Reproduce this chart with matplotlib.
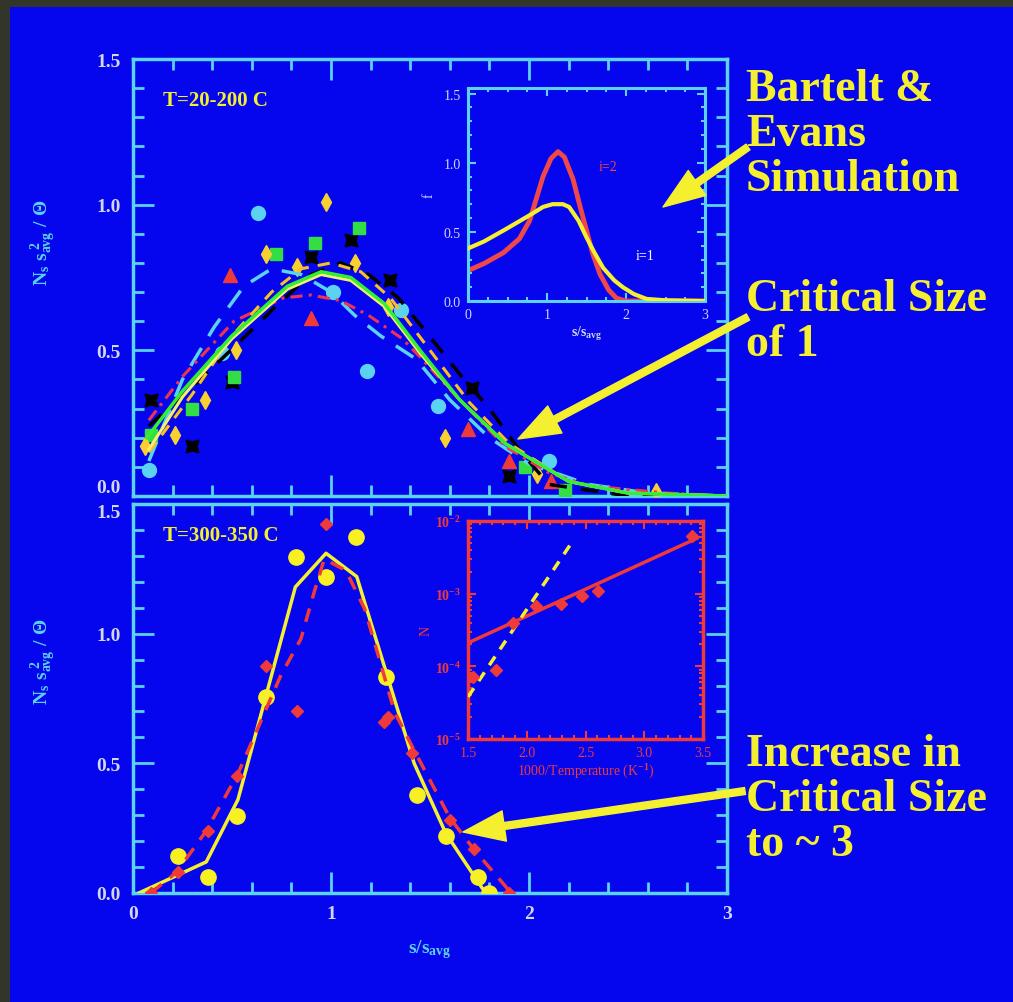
import matplotlib
matplotlib.use("Agg")
import matplotlib.pyplot as plt
from matplotlib.ticker import MultipleLocator, FixedLocator, NullFormatter
from matplotlib.patches import Rectangle

plt.rcParams['font.family'] = ['Liberation Serif', 'DejaVu Serif']
plt.rcParams['mathtext.fontset'] = 'custom'
plt.rcParams['mathtext.rm'] = 'Liberation Serif:bold'
plt.rcParams['mathtext.it'] = 'Liberation Serif:bold'
plt.rcParams['mathtext.bf'] = 'Liberation Serif:bold'

# ---------------- data: top panel (T = 20-200 C) ----------------
cyan_line_x = [0.08, 0.25, 0.41, 0.56, 0.70, 0.85, 1.00, 1.12, 1.25, 1.43, 1.60, 1.80, 2.00, 2.30, 2.60, 3.00]
cyan_line_y = [0.12, 0.40, 0.58, 0.72, 0.78, 0.76, 0.70, 0.62, 0.55, 0.47, 0.33, 0.20, 0.11, 0.04, 0.01, 0.00]
green_line_x = [0.07, 0.25, 0.50, 0.78, 0.95, 1.10, 1.27, 1.45, 1.65, 1.88, 2.20, 2.50, 3.00]
green_line_y = [0.20, 0.36, 0.55, 0.72, 0.77, 0.75, 0.66, 0.50, 0.33, 0.18, 0.05, 0.01, 0.00]
lyellow_line_x = [0.08, 0.25, 0.50, 0.78, 0.95, 1.10, 1.27, 1.45, 1.65, 1.88, 2.20, 2.50, 3.00]
lyellow_line_y = [0.16, 0.34, 0.54, 0.71, 0.76, 0.74, 0.65, 0.49, 0.33, 0.18, 0.05, 0.01, 0.00]
yellow_dash_x = [0.08, 0.30, 0.50, 0.70, 0.85, 1.00, 1.15, 1.30, 1.50, 1.70, 1.90, 2.20, 2.50, 3.00]
yellow_dash_y = [0.15, 0.35, 0.55, 0.70, 0.78, 0.80, 0.77, 0.68, 0.50, 0.32, 0.18, 0.05, 0.01, 0.00]
black_dash_x = [0.08, 0.34, 0.60, 0.75, 0.90, 1.05, 1.19, 1.34, 1.46, 1.66, 1.80, 1.96, 2.10, 2.50, 3.00]
black_dash_y = [0.24, 0.40, 0.57, 0.67, 0.76, 0.80, 0.76, 0.68, 0.58, 0.41, 0.30, 0.15, 0.04, 0.00, 0.00]
red_dd_x = [0.08, 0.25, 0.51, 0.76, 0.90, 1.05, 1.19, 1.36, 1.46, 1.65, 1.88, 2.10, 2.30, 2.70, 3.00]
red_dd_y = [0.26, 0.41, 0.60, 0.68, 0.69, 0.67, 0.62, 0.54, 0.47, 0.33, 0.17, 0.08, 0.035, 0.01, 0.00]

cyan_pts_x = [0.08, 0.45, 0.63, 1.01, 1.18, 1.355, 1.54, 2.10]
cyan_pts_y = [0.09, 0.49, 0.97, 0.70, 0.43, 0.64, 0.31, 0.12]
black_pts_x = [0.09, 0.30, 0.50, 0.90, 1.10, 1.30, 1.71, 1.90]
black_pts_y = [0.33, 0.17, 0.39, 0.82, 0.88, 0.74, 0.37, 0.07]
green_pts_x = [0.09, 0.30, 0.51, 0.72, 0.92, 1.14, 1.98, 2.18]
green_pts_y = [0.21, 0.30, 0.41, 0.83, 0.87, 0.92, 0.10, 0.02]
red_pts_x = [0.49, 0.90, 1.69, 1.90, 2.11]
red_pts_y = [0.76, 0.61, 0.23, 0.12, 0.05]
yellow_pts_x = [0.06, 0.21, 0.365, 0.52, 0.67, 0.83, 0.975, 1.12, 1.29, 1.575, 2.04, 2.64]
yellow_pts_y = [0.17, 0.21, 0.33, 0.50, 0.83, 0.785, 1.01, 0.80, 0.65, 0.20, 0.075, 0.013]

# ---------------- inset 1: Bartelt & Evans simulation ----------------
sim_i1_x = [0.0, 0.2, 0.45, 0.78, 0.95, 1.07, 1.2, 1.28, 1.4, 1.5, 1.6, 1.71, 1.85, 1.96, 2.1, 2.26, 2.5, 3.0]
sim_i1_y = [0.38, 0.43, 0.51, 0.62, 0.68, 0.70, 0.70, 0.68, 0.58, 0.46, 0.35, 0.24, 0.15, 0.10, 0.05, 0.015, 0.005, 0.0]
sim_i2_x = [0.0, 0.2, 0.45, 0.65, 0.78, 0.95, 1.05, 1.14, 1.22, 1.33, 1.42, 1.50, 1.58, 1.67, 1.78, 1.88, 2.0, 2.5, 3.0]
sim_i2_y = [0.22, 0.27, 0.35, 0.45, 0.58, 0.90, 1.03, 1.08, 1.04, 0.88, 0.68, 0.51, 0.34, 0.195, 0.08, 0.02, 0.0, 0.0, 0.0]

# ---------------- bottom panel (T = 300-350 C) ----------------
yel_line_x = [0.03, 0.37, 0.53, 0.82, 0.975, 1.13, 1.42, 1.58, 1.78]
yel_line_y = [0.00, 0.12, 0.36, 1.18, 1.31, 1.22, 0.50, 0.23, 0.00]
yel_pts_x = [0.227, 0.377, 0.526, 0.67, 0.822, 0.975, 1.127, 1.279, 1.433, 1.58, 1.74, 1.80]
yel_pts_y = [0.141, 0.063, 0.298, 0.755, 1.294, 1.217, 1.372, 0.832, 0.376, 0.219, 0.063, 0.0]
red_line_x = [0.09, 0.22, 0.37, 0.53, 0.746, 0.848, 0.915, 0.966, 1.076, 1.17, 1.254, 1.32, 1.42, 1.60, 1.72, 1.91]
red_line_y = [0.00, 0.08, 0.24, 0.46, 0.838, 0.98, 1.16, 1.288, 1.243, 1.095, 0.876, 0.70, 0.55, 0.29, 0.17, 0.00]
red_b_pts_x = [0.09, 0.227, 0.377, 0.526, 0.674, 0.83, 0.975, 1.27, 1.29, 1.41, 1.60, 1.72, 1.90]
red_b_pts_y = [0.00, 0.08, 0.24, 0.45, 0.877, 0.70, 1.423, 0.66, 0.68, 0.54, 0.28, 0.17, 0.00]

# ---------------- inset 2: Arrhenius ----------------
arr_pts_x = [1.545, 1.74, 1.885, 2.08, 2.29, 2.47, 2.61, 3.41]
arr_pts_y = [7.2e-5, 8.9e-5, 4.0e-4, 6.8e-4, 7.2e-4, 9.3e-4, 1.1e-3, 6.2e-3]
fit_red_x = [1.5, 3.45]
fit_red_y = [2.1e-4, 5.8e-3]
fit_yel_x = [1.5, 2.37]
fit_yel_y = [3.8e-5, 4.7e-3]

main_ticks = [0, 1, 2, 3]
main_yticks = [0.0, 0.5, 1.0, 1.5]
main_ylabels = ['0.0', '0.5', '1.0', '1.5']

# ---------------- style ----------------
W, H = 1013, 1003
BLUE = '#0505ee'
DARK = '#32352a'
CYAN = '#5ad2f0'
TICKTXT = '#d0d8ee'
YEL = '#f4f030'
RED = '#f03a3a'

fig = plt.figure(figsize=(W / 100, H / 100), dpi=100, facecolor=DARK)
fig.patches.append(Rectangle((10 / W, 0), 1 - 10 / W, (H - 8) / H, transform=fig.transFigure,
                             facecolor=BLUE, edgecolor='none', zorder=-10))


def fr(x0, y0, x1, y1):
    return [x0 / W, (H - y1) / H, (x1 - x0) / W, (y1 - y0) / H]


def style_main(ax, show_x):
    ax.set_facecolor(BLUE)
    ax.set_xlim(0, 3)
    ax.set_ylim(0, 1.5)
    for s in ax.spines.values():
        s.set_color(CYAN)
        s.set_linewidth(2.5)
    ax.xaxis.set_major_locator(FixedLocator(main_ticks))
    ax.xaxis.set_minor_locator(MultipleLocator(0.2))
    ax.yaxis.set_major_locator(FixedLocator(main_yticks))
    ax.yaxis.set_minor_locator(MultipleLocator(0.1))
    ax.set_yticklabels(main_ylabels)
    ax.tick_params(which='both', direction='in', top=True, right=True, colors=CYAN,
                   labelcolor=TICKTXT, labelsize=14, width=2)
    ax.tick_params(which='major', length=15, pad=9)
    ax.tick_params(which='minor', length=8)
    for t in ax.get_yticklabels() + ax.get_xticklabels():
        t.set_fontweight('bold')
    if not show_x:
        ax.set_xticklabels([])
    else:
        ax.set_xticklabels([str(v) for v in main_ticks], fontweight='bold')


# ---- top panel ----
ax1 = fig.add_axes(fr(133, 60, 727, 497))
style_main(ax1, False)
ax1.get_yticklabels()[0].set_va('bottom')
ax1.plot(cyan_pts_x, cyan_pts_y, 'o', color=CYAN, ms=10, zorder=3)
ax1.plot(black_pts_x, black_pts_y, marker=(4, 1, 45), ls='none', color='black', ms=13, zorder=3)
ax1.plot(green_pts_x, green_pts_y, 's', color='#33dd44', ms=9, zorder=3)
ax1.plot(red_pts_x, red_pts_y, '^', color=RED, ms=10, zorder=3)
ax1.plot(yellow_pts_x, yellow_pts_y, 'd', color='#f8d030', ms=9, zorder=3)
ax1.plot(cyan_line_x, cyan_line_y, color=CYAN, lw=2.5, dashes=(6, 4), zorder=4)
ax1.plot(black_dash_x, black_dash_y, color='black', lw=2.5, dashes=(5, 4), zorder=4)
ax1.plot(red_dd_x, red_dd_y, color='#ee3355', lw=2.2, dashes=(4, 2, 1, 2), zorder=4)
ax1.plot(yellow_dash_x, yellow_dash_y, color='#f8c020', lw=2.2, dashes=(4, 3), zorder=4)
ax1.plot(lyellow_line_x, lyellow_line_y, color='#f6f070', lw=2.2, zorder=5)
ax1.plot(green_line_x, green_line_y, color='#33ee33', lw=2.5, zorder=5)
ax1.text(0.15, 1.36, 'T=20-200 C', color=YEL, fontsize=15, fontweight='bold', va='center')

# ---- bottom panel ----
ax2 = fig.add_axes(fr(133, 505, 727, 894))
style_main(ax2, True)
ax2.get_yticklabels()[-1].set_va('top')
ax2.plot(yel_line_x, yel_line_y, color=YEL, lw=2.5, zorder=4)
ax2.plot(red_line_x, red_line_y, color=RED, lw=2.5, dashes=(4, 3), zorder=4)
ax2.plot(red_b_pts_x, red_b_pts_y, 'D', color=RED, ms=6, zorder=5)
ax2.plot(yel_pts_x, yel_pts_y, 'o', color='#f8f020', ms=11, zorder=3)
ax2.text(0.15, 1.38, 'T=300-350 C', color=YEL, fontsize=15, fontweight='bold', va='center')

ylab = r'$\mathrm{N_s\ s_{avg}^{\ 2}\ /\ \Theta}$'
fig.text(44 / W, 1 - 243 / H, ylab, color=CYAN, fontsize=14, rotation=90, ha='center', va='center')
fig.text(44 / W, 1 - 662 / H, ylab, color=CYAN, fontsize=14, rotation=90, ha='center', va='center')
fig.text(430 / W, 1 - 950 / H, r'$\mathrm{s/s_{avg}}$', color=CYAN, fontsize=14, ha='center', va='center')

# ---- inset 1 ----
ax3 = fig.add_axes(fr(468, 89, 705, 302))
ax3.set_facecolor(BLUE)
ax3.set_xlim(0, 3)
ax3.set_ylim(0, 1.54)
for s in ax3.spines.values():
    s.set_color(CYAN)
    s.set_linewidth(2.2)
ax3.xaxis.set_major_locator(FixedLocator(main_ticks))
ax3.xaxis.set_minor_locator(MultipleLocator(0.25))
ax3.yaxis.set_major_locator(FixedLocator(main_yticks))
ax3.yaxis.set_minor_locator(MultipleLocator(0.1))
ax3.set_yticklabels(main_ylabels)
ax3.tick_params(which='both', direction='in', top=True, right=True, colors=CYAN,
                labelcolor=TICKTXT, labelsize=10, width=1.5)
ax3.tick_params(which='major', length=6, pad=5)
ax3.tick_params(which='minor', length=3)
ax3.plot(sim_i1_x, sim_i1_y, color=YEL, lw=3, zorder=3)
ax3.plot(sim_i2_x, sim_i2_y, color='#f04848', lw=3.5, zorder=2)
ax3.text(1.66, 0.97, 'i=2', color='#f04848', fontsize=10, va='center')
ax3.text(2.12, 0.33, 'i=1', color='white', fontsize=10, va='center')
ax3.set_xlabel(r'$\mathrm{s/s_{avg}}$', color=TICKTXT, fontsize=10, labelpad=2)
ax3.set_ylabel('f', color=TICKTXT, fontsize=10, labelpad=6)

# ---- inset 2 ----
ax4 = fig.add_axes(fr(468, 522, 703, 740))
ax4.set_facecolor(BLUE)
ax4.set_yscale('log')
ax4.set_xlim(1.5, 3.5)
ax4.set_ylim(1e-5, 1e-2)
for s in ax4.spines.values():
    s.set_color(RED)
    s.set_linewidth(2.5)
ax4.xaxis.set_major_locator(MultipleLocator(0.5))
ax4.xaxis.set_minor_locator(MultipleLocator(0.1))
ax4.set_xticks([1.5, 2.0, 2.5, 3.0, 3.5])
ax4.set_xticklabels(['1.5', '2.0', '2.5', '3.0', '3.5'])
ax4.set_yticks([1e-5, 1e-4, 1e-3, 1e-2])
ax4.set_yticklabels([r'$10^{-5}$', r'$10^{-4}$', r'$10^{-3}$', r'$10^{-2}$'])
ax4.yaxis.set_minor_formatter(NullFormatter())
ax4.tick_params(which='both', direction='in', top=True, right=True, colors=RED,
                labelcolor=RED, labelsize=10, width=1.5)
ax4.tick_params(which='major', length=6, pad=5)
ax4.tick_params(which='minor', length=3)
ax4.plot(fit_red_x, fit_red_y, color=RED, lw=2.5, zorder=3)
ax4.plot(fit_yel_x, fit_yel_y, color=YEL, lw=2.5, dashes=(3, 2.5), zorder=4)
ax4.plot(arr_pts_x, arr_pts_y, 'D', color=RED, ms=6, zorder=5)
ax4.set_xlabel(r'1000/Temperature (K$^{-1}$)', color=RED, fontsize=10, labelpad=2)
ax4.set_ylabel('N', color=RED, fontsize=10, labelpad=2)

# ---- annotations ----
big = dict(color=YEL, fontsize=33, fontweight='bold', ha='left', va='center')
for txt, y in [('Bartelt &', 90), ('Evans', 135), ('Simulation', 180),
               ('Critical Size', 300), ('of 1', 345),
               ('Increase in', 755), ('Critical Size', 800), ('to ~ 3', 845)]:
    fig.text(746 / W, 1 - y / H, txt, **big)

arrow = dict(facecolor=YEL, edgecolor=YEL, width=5, headwidth=22, headlength=30, shrink=0)
for (x0, y0), (x1, y1) in [((748, 148), (663, 208)),
                           ((748, 318), (518, 440)),
                           ((745, 792), (463, 833))]:
    fig.add_artist(plt.Annotation('', xy=(x1 / W, 1 - y1 / H), xytext=(x0 / W, 1 - y0 / H),
                                  xycoords='figure fraction', textcoords='figure fraction',
                                  arrowprops=arrow))

fig.savefig('out.png', dpi=100, facecolor=DARK)
